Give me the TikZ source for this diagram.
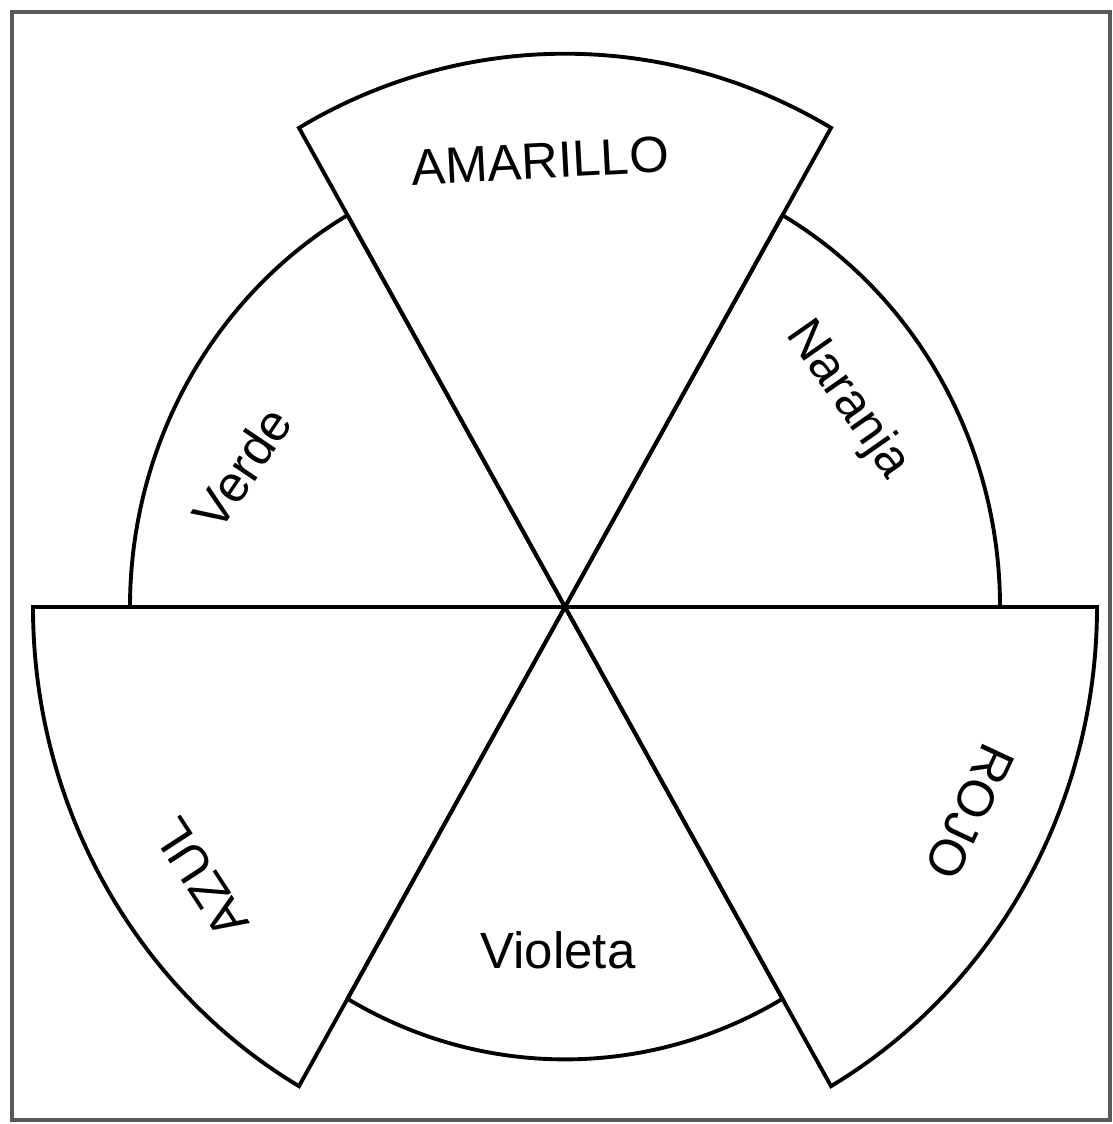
\documentclass[tikz,border=0pt]{standalone}
\usepackage{fontspec}
\setmainfont{Liberation Sans}
\usepackage{tikz}
\usetikzlibrary{positioning,calc}

\begin{document}
\begin{tikzpicture}[
  sector/.style={draw,line width=1.1pt,line join=miter},
  frame/.style={draw=black!65,line width=1.3pt},
  lbl/.style={font=\fontsize{14.5}{17}\selectfont,inner sep=0pt}
]
  \useasboundingbox (-5.65,-5.17) rectangle (5.47,6.07);
  \draw[frame] (-5.53,-5.13) rectangle (5.45,5.95);

  % wheel: small sectors (secondary) and large sectors (primary)
  \begin{scope}[yscale=1.04]
    \coordinate (c) at (0,0);
    \foreach \a/\r in {0/4.35,60/5.32,120/4.35,180/5.32,240/4.35,300/5.32}{
      \draw[sector] (c) -- (\a:\r) arc[start angle=\a,end angle=\a+60,radius=\r] -- cycle;
    }
  \end{scope}

  \node[lbl,rotate=3]    (amarillo) at (-0.25,4.46) {AMARILLO};
  \node[lbl,rotate=-55]  (naranja)  at (2.82,2.07)  {Naranja};
  \node[lbl,rotate=56]   (verde)    at (-3.23,1.39) {Verde};
  \node[lbl,rotate=-115] (rojo)     at (4.05,-2.05) {ROJO};
  \node[lbl,rotate=123]  (azul)     at (-3.64,-2.71) {AZUL};
  \node[lbl]             (violeta)  at (-0.07,-3.43) {Violeta};
\end{tikzpicture}
\end{document}
